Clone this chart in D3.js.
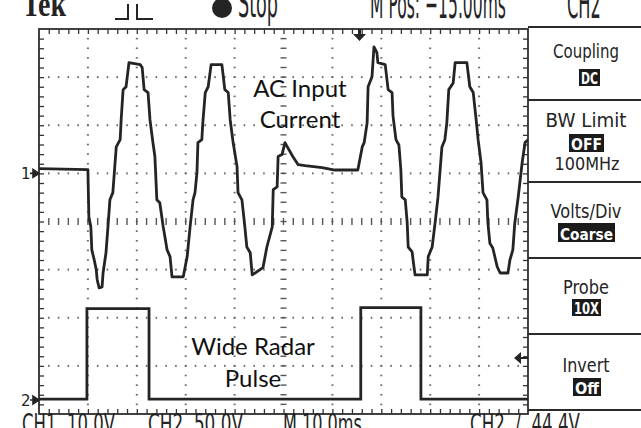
<!DOCTYPE html>
<html>
<head>
<meta charset="utf-8">
<script src="https://cdn.jsdelivr.net/npm/d3@7"></script>
<style>
  body { margin: 0; background: #fff; }
  svg { display: block; }
</style>
</head>
<body>
<script>
// CH1: AC input current, 10.0 V/div, time in ms (10 ms/div)
const ch1Time = [
  0, 10.0, 10.2, 10.6, 10.8, 11.3, 11.7, 11.9, 12.3, 12.9, 13.1, 13.7, 14.1, 14.5, 15.1, 15.8,
  16.6, 16.8, 17.2, 17.8, 18.4, 20.7, 21.1, 21.5, 22.3, 22.7, 23.3, 23.7, 24.1, 24.7, 25.4, 26.2,
  26.8, 27.2, 29.5, 30.3, 30.9, 31.5, 31.9, 32.3, 32.5, 33.3, 33.5, 34.0, 34.6, 35.2, 37.4, 38.0,
  38.7, 39.1, 39.7, 40.5, 40.7, 41.5, 42.1, 42.5, 43.2, 43.6, 45.8, 46.6, 47.7, 47.9, 48.7, 48.9,
  49.7, 50.3, 50.9, 51.9, 53.0, 54.4, 57.9, 60.5, 65.2, 66.1, 66.5, 67.1, 67.3, 68.1, 68.5, 69.1,
  69.3, 70.8, 71.4, 72.2, 72.4, 73.0, 73.6, 74.0, 74.2, 74.9, 75.3, 75.5, 76.3, 76.5, 76.9, 79.4,
  79.6, 80.4, 81.0, 81.6, 82.4, 83.0, 83.4, 83.8, 84.7, 85.1, 87.5, 88.1, 88.8, 89.4, 89.8, 90.4,
  90.8, 91.6, 91.8, 92.2, 92.8, 93.7, 94.3, 95.9, 96.3, 96.9, 97.3, 98.0, 98.8, 99.4, 100
]
const ch1Volts = [
  1.0, 0.8, -9.0, -11.1, -15.9, -18.0, -20.0, -22.1, -23.8, -23.6, -20.7, -16.5, -11.1, -5.5, -4.0, 5.5,
  7.0, 11.1, 17.4, 18.0, 23.0, 22.6, 22.0, 17.4, 16.8, 11.1, 6.4, 3.5, -5.5, -6.1, -11.1, -15.9,
  -17.3, -21.5, -21.5, -17.3, -11.1, -5.5, -4.0, 0.1, 6.4, 7.0, 10.5, 16.8, 18.0, 22.6, 22.6, 17.4,
  16.8, 11.1, 6.4, 1.4, -4.0, -5.5, -11.1, -15.3, -16.5, -21.1, -19.6, -15.3, -11.1, -3.4, -2.8, 3.5,
  3.9, 6.4, 5.3, 3.5, 1.8, 1.6, 1.2, 0.7, 0.7, 5.5, 6.4, 10.5, 18.0, 20.1, 26.3, 25.1,
  23.0, 22.6, 17.4, 16.8, 11.9, 7.0, 5.9, 0.7, -4.9, -5.5, -10.3, -15.3, -16.3, -18.0, -21.1, -21.1,
  -17.3, -15.3, -10.3, -4.9, 5.5, 7.0, 10.5, 17.4, 18.8, 23.0, 23.0, 18.0, 16.8, 11.1, 7.0, 2.2,
  -4.0, -5.5, -10.3, -14.5, -15.5, -19.4, -20.7, -20.7, -18.0, -15.9, -10.3, -4.9, 2.2, 6.4, 7.0
]

// CH2: wide radar pulse, 50.0 V/div
const ch2Time = [0, 9.8, 22.5, 65.8, 78.1, 100]
const ch2Volts = [1, 95, 1, 96, 1, 1]

const timeDomain = [0, 100]
const ch1Offset = 1       // ground marker, divisions above centre
const ch2Offset = -3.71
const ch1VoltsPerDiv = 10
const ch2VoltsPerDiv = 50

const headerLabels = ['Tek', 'Stop', 'M Pos: \u221215.00ms', 'CH2']
const footerLabels = ['CH1  10.0V', 'CH2  50.0V', 'M 10.0ms', 'CH2  /  44.4V']
const menuTitles = ['Coupling', 'BW Limit', 'Volts/Div', 'Probe', 'Invert']
const menuValues = ['DC', 'OFF', 'Coarse', '10X', 'Off']
const menuNotes = ['', '100MHz', '', '', '']
const traceNotes = [['AC Input', 'Current'], ['Wide Radar', 'Pulse']]

const WIDTH = 641
const HEIGHT = 428
const plot = { left: 39, right: 528, top: 29, bottom: 414 }
const ink = '#242424'
const screenFont = 'DejaVu Sans, sans-serif'

const svg = d3.select('body')
  .append('svg')
  .attr('width', WIDTH)
  .attr('height', HEIGHT)

svg.append('rect').attr('width', WIDTH).attr('height', HEIGHT).attr('fill', '#fff')

// squeeze a text to a given width, like the narrow scope font
const fitText = (parent, o) => {
  const t = parent.append('text')
    .attr('font-family', o.family || screenFont)
    .attr('font-size', o.size)
    .attr('font-weight', o.weight || 'normal')
    .attr('text-anchor', o.anchor || 'start')
    .attr('fill', o.fill || ink)
    .style('white-space', 'pre')
    .text(o.text)
  const len = t.node().getComputedTextLength() || o.w
  t.attr('transform', `translate(${[o.x, o.y]}) scale(${o.w / len},1)`)
  return t
}

const x = d3.scaleLinear().domain(timeDomain).range([plot.left, plot.right])
const yDiv = d3.scaleLinear().domain([-4, 4]).range([plot.bottom, plot.top])
const y1 = d3.scaleLinear()
  .domain([(-4 - ch1Offset) * ch1VoltsPerDiv, (4 - ch1Offset) * ch1VoltsPerDiv])
  .range([plot.bottom, plot.top])
const y2 = d3.scaleLinear()
  .domain([(-4 - ch2Offset) * ch2VoltsPerDiv, (4 - ch2Offset) * ch2VoltsPerDiv])
  .range([plot.bottom, plot.top])

// graticule
const grid = svg.append('g').attr('class', 'graticule')
const minorX = d3.range(1, 50).map(i => i * 2)          // ms, 1/5 div
const minorY = d3.range(1, 40).map(i => -4 + i * 0.2)  // div
const majorX = d3.range(1, 10).map(i => i * 10).filter(d => d !== 50)
const majorY = d3.range(-3, 4).filter(d => d !== 0)

majorX.forEach(t => {
  grid.selectAll(null).data(minorY).enter().append('rect')
    .attr('x', x(t) - 1).attr('y', d => yDiv(d) - 0.8)
    .attr('width', 2).attr('height', 1.6).attr('fill', '#6a6a6a')
})
majorY.forEach(v => {
  grid.selectAll(null).data(minorX).enter().append('rect')
    .attr('x', d => x(d) - 0.8).attr('y', yDiv(v) - 1)
    .attr('width', 1.6).attr('height', 2).attr('fill', '#6a6a6a')
})

// centre cross with 1/5 div marks
grid.selectAll(null).data(minorY).enter().append('line')
  .attr('x1', x(50) - 3).attr('x2', x(50) + 3)
  .attr('y1', d => yDiv(d)).attr('y2', d => yDiv(d))
  .attr('stroke', '#555').attr('stroke-width', 1.4)
grid.selectAll(null).data(minorX).enter().append('line')
  .attr('x1', d => x(d)).attr('x2', d => x(d))
  .attr('y1', yDiv(0) - 3.5).attr('y2', yDiv(0) + 3.5)
  .attr('stroke', '#555').attr('stroke-width', 1.4)

// border ticks from the library's axes
const edgeTicks = (axis, tx, ty) => {
  const g = grid.append('g')
    .attr('transform', `translate(${[tx, ty]})`)
    .call(axis.tickSizeOuter(0).tickFormat(''))
  g.select('.domain').remove()
  g.selectAll('line').attr('stroke', '#333').attr('stroke-width', 1.3)
}
edgeTicks(d3.axisTop(x).tickValues(minorX).tickSizeInner(-5), 0, plot.top)
edgeTicks(d3.axisBottom(x).tickValues(minorX).tickSizeInner(-5), 0, plot.bottom)
edgeTicks(d3.axisLeft(yDiv).tickValues(minorY).tickSizeInner(-5), plot.left, 0)
edgeTicks(d3.axisRight(yDiv).tickValues(minorY).tickSizeInner(-5), plot.right, 0)

grid.append('rect')
  .attr('x', plot.left).attr('y', plot.top)
  .attr('width', plot.right - plot.left).attr('height', plot.bottom - plot.top)
  .attr('fill', 'none').attr('stroke', '#2e2e2e').attr('stroke-width', 1.8)

// traces
svg.append('defs').append('clipPath').attr('id', 'clip')
  .append('rect')
  .attr('x', plot.left).attr('y', plot.top)
  .attr('width', plot.right - plot.left).attr('height', plot.bottom - plot.top)

const traces = svg.append('g').attr('clip-path', 'url(#clip)')

const line1 = d3.line()
  .x(i => x(ch1Time[i]))
  .y(i => y1(ch1Volts[i]))
const line2 = d3.line()
  .x(i => x(ch2Time[i]))
  .y(i => y2(ch2Volts[i]))
  .curve(d3.curveStepAfter)

traces.append('path')
  .attr('d', line1(d3.range(ch1Time.length)))
  .attr('fill', 'none').attr('stroke', ink)
  .attr('stroke-width', 2.8).attr('stroke-linejoin', 'round')
traces.append('path')
  .attr('d', line2(d3.range(ch2Time.length)))
  .attr('fill', 'none').attr('stroke', ink)
  .attr('stroke-width', 2.8)

// channel ground markers
const groundMarker = (label, py) => {
  svg.append('text').attr('x', 21).attr('y', py + 6)
    .attr('font-family', screenFont).attr('font-size', 15).attr('fill', ink)
    .text(label)
  svg.append('path')
    .attr('d', `M30,${py}H36M33,${py - 4}L39,${py}L33,${py + 4}Z`)
    .attr('stroke', ink).attr('stroke-width', 1.6).attr('fill', ink)
}
groundMarker('1', y1(0))
groundMarker('2', y2(0))

// trigger position and level markers
svg.append('path')
  .attr('d', `M358,${plot.top}V34H353L359.5,41L366,34H361V${plot.top}Z`)
  .attr('fill', ink)
svg.append('path')
  .attr('d', `M${plot.right},357H521V352L514,358L521,364V359H${plot.right}Z`)
  .attr('fill', ink)

// header (cut off at the top edge of the screen)
const header = svg.append('g')
fitText(header, {
  text: headerLabels[0], x: 22, y: 16, w: 44, size: 35,
  family: 'Liberation Serif, serif', weight: 'bold'
})
header.append('path')
  .attr('d', 'M115,19H128V4M137,4V19H153')
  .attr('fill', 'none').attr('stroke', ink).attr('stroke-width', 2)
header.append('circle').attr('cx', 222).attr('cy', 8).attr('r', 10).attr('fill', ink)
fitText(header, { text: headerLabels[1], x: 238, y: 17, w: 40, size: 40 })
fitText(header, { text: headerLabels[2], x: 370, y: 18, w: 136, size: 40 })
fitText(header, { text: headerLabels[3], x: 567, y: 18, w: 34, size: 40 })

// footer (cut off at the bottom edge)
const footer = svg.append('g')
const footerText = [
  { text: footerLabels[0], x: 22, w: 93 },
  { text: footerLabels[1], x: 148, w: 95 },
  { text: footerLabels[2], x: 283, w: 79 },
  { text: footerLabels[3], x: 470, w: 110 },
]
footerText.forEach(d => fitText(footer, { text: d.text, x: d.x, y: 433, w: d.w, size: 26 }))

// side menu
const menu = svg.append('g').attr('class', 'menu')
const menuLines = [27, 100, 182, 258, 334, 410]
menu.selectAll('line').data(menuLines).enter().append('line')
  .attr('x1', plot.right).attr('x2', WIDTH)
  .attr('y1', d => d).attr('y2', d => d)
  .attr('stroke', '#2a2a2a').attr('stroke-width', 2)

const menuLayout = [
  { title: 58, titleW: 66, box: [579, 69, 21, 17], note: 0 },
  { title: 127, titleW: 81, box: [569, 134, 35, 18], note: 170, noteW: 65 },
  { title: 218, titleW: 71, box: [558, 223, 57, 19], note: 0 },
  { title: 294, titleW: 46, box: [572, 299, 29, 17], note: 0 },
  { title: 372, titleW: 47, box: [573, 378, 28, 18], note: 0 },
]
const cx = 586
menuLayout.forEach((m, i) => {
  fitText(menu, { text: menuTitles[i], x: cx, y: m.title, w: m.titleW, size: 19, anchor: 'middle' })
  const [bx, by, bw, bh] = m.box
  menu.append('rect').attr('x', bx).attr('y', by).attr('width', bw).attr('height', bh)
    .attr('fill', '#1b1b1b')
  fitText(menu, {
    text: menuValues[i], x: bx + bw / 2, y: by + bh - 2.5, w: bw - 4, size: 16,
    weight: 'bold', anchor: 'middle', fill: '#fff'
  })
  if (m.note) {
    fitText(menu, { text: menuNotes[i], x: cx + 1, y: m.note, w: m.noteW, size: 18, anchor: 'middle' })
  }
})

// annotations
const notePos = [
  { x: 300, y: [97, 128] },
  { x: 253, y: [355, 387] },
]
notePos.forEach((p, i) => {
  svg.append('g').selectAll('text').data(traceNotes[i]).enter().append('text')
    .attr('x', p.x).attr('y', (d, j) => p.y[j])
    .attr('text-anchor', 'middle')
    .attr('font-family', 'Lato, Open Sans, sans-serif').attr('font-size', 24)
    .attr('fill', '#111')
    .text(d => d)
})
</script>
</body>
</html>
